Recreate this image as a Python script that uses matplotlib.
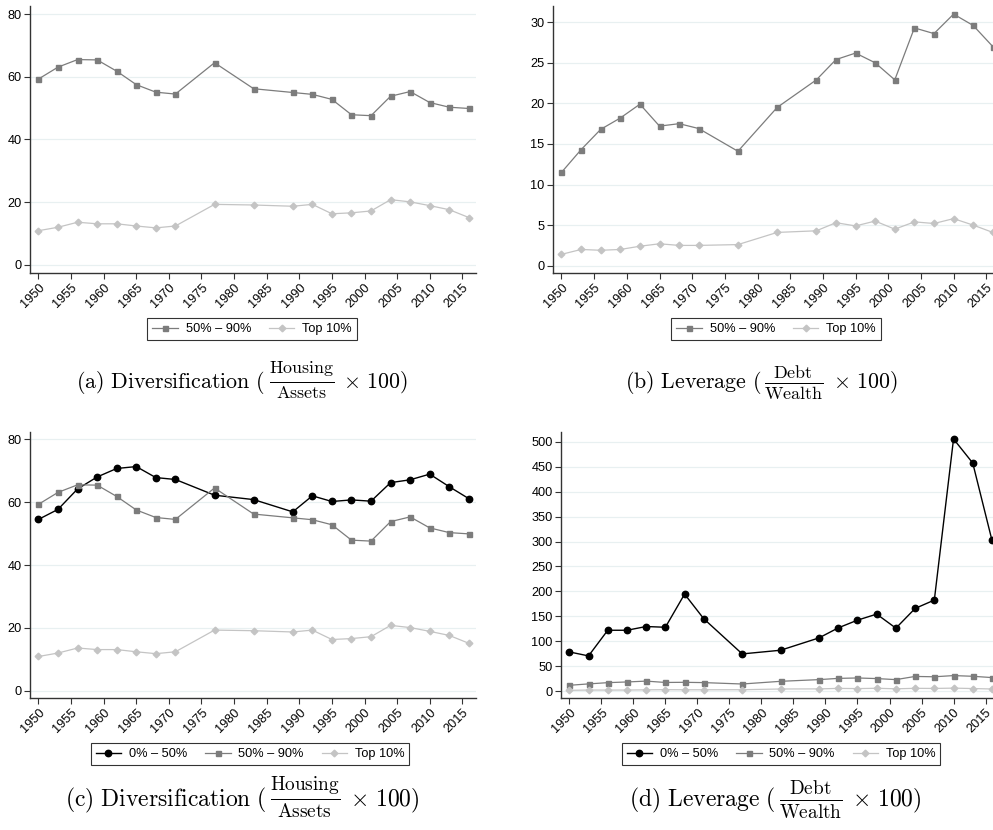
import matplotlib
matplotlib.use("Agg")
import matplotlib.pyplot as plt
from matplotlib.lines import Line2D

plt.rcParams['font.family'] = ['Liberation Sans', 'DejaVu Sans']
plt.rcParams['mathtext.fontset'] = 'cm'

# Survey years
years = [1950, 1953, 1956, 1959, 1962, 1965, 1968, 1971, 1977, 1983,
         1989, 1992, 1995, 1998, 2001, 2004, 2007, 2010, 2013, 2016]

# Diversification (Housing / Assets x 100)
div_bottom50 = [54.5, 57.7, 64.2, 68.0, 70.7, 71.3, 67.8, 67.2, 62.2, 60.8,
                56.9, 62.0, 60.2, 60.7, 60.3, 66.2, 67.1, 68.9, 64.9, 61.1]
div_mid40 = [59.3, 63.1, 65.5, 65.4, 61.8, 57.5, 55.1, 54.5, 64.5, 56.2,
             55.0, 54.4, 52.8, 47.9, 47.6, 53.8, 55.3, 51.8, 50.3, 49.9]
div_top10 = [10.9, 12.0, 13.6, 13.1, 13.1, 12.4, 11.8, 12.4, 19.3, 19.1,
             18.7, 19.3, 16.3, 16.6, 17.2, 20.8, 20.1, 18.9, 17.6, 15.1]

# Leverage (Debt / Wealth x 100)
lev_bottom50 = [78.5, 70.5, 122.0, 122.0, 129.5, 128.0, 194.6, 145.0, 74.5, 81.9,
                106.7, 126.8, 142.3, 154.4, 126.2, 165.8, 182.6, 506.0, 457.7, 302.7]
lev_mid40 = [11.5, 14.3, 16.8, 18.2, 19.9, 17.2, 17.5, 16.9, 14.1, 19.5,
             22.9, 25.4, 26.2, 25.0, 22.9, 29.3, 28.6, 31.0, 29.6, 27.0]
lev_top10 = [1.4, 2.0, 1.9, 2.0, 2.4, 2.7, 2.5, 2.5, 2.6, 4.1,
             4.3, 5.3, 4.9, 5.5, 4.5, 5.4, 5.2, 5.8, 5.0, 4.1]

labels = ['0% – 50%', '50% – 90%', 'Top 10%']
xticks = list(range(1950, 2016, 5))

styles = {
    '0% – 50%': dict(color='black', marker='o', markersize=4.6, linewidth=1.0),
    '50% – 90%': dict(color='#7c7c7c', marker='s', markersize=3.6, linewidth=0.9),
    'Top 10%': dict(color='#c4c4c4', marker='D', markersize=3.4, linewidth=0.9),
}

W, H = 993, 830
fig = plt.figure(figsize=(W / 100, H / 100), dpi=100)


def px_axes(left, top, width, height):
    return fig.add_axes([left / W, 1 - (top + height) / H, width / W, height / H])


def style_axes(ax, ylim, yticks):
    ax.set_xlim(1948.7, 2017.1)
    ax.set_ylim(*ylim)
    ax.set_yticks(yticks)
    ax.set_xticks(xticks)
    ax.set_xticklabels([str(t) for t in xticks], rotation=45, ha='right',
                       rotation_mode='anchor', fontsize=9.2)
    ax.tick_params(axis='y', labelsize=9.2, length=4, width=0.8, color='#333333', pad=2)
    ax.tick_params(axis='x', length=4, width=0.8, color='#333333', pad=2)
    for s in ['top', 'right']:
        ax.spines[s].set_visible(False)
    for s in ['left', 'bottom']:
        ax.spines[s].set_color('#333333')
        ax.spines[s].set_linewidth(1.0)
    ax.grid(axis='y', color='#e8f0f1', linewidth=0.9)
    ax.set_axisbelow(True)


def draw(ax, series):
    handles = []
    for name, vals in series:
        st = styles[name]
        ax.plot(years, vals, color=st['color'], marker=st['marker'],
                markersize=st['markersize'], linewidth=st['linewidth'], clip_on=False)
        handles.append(Line2D([], [], color=st['color'], marker=st['marker'],
                              markersize=st['markersize'], linewidth=st['linewidth']))
    return handles


def legend(handles, names, cx, cy):
    leg = fig.legend(handles, names, loc='center', bbox_to_anchor=(cx / W, 1 - cy / H),
                     ncol=len(names), fontsize=9.2, frameon=True, fancybox=False,
                     numpoints=1, handlelength=2.0, columnspacing=1.4,
                     handletextpad=0.6, borderpad=0.4, borderaxespad=0)
    leg.get_frame().set_edgecolor('black')
    leg.get_frame().set_linewidth(0.8)


renderer = fig.canvas.get_renderer()


def caption(letter, word, num, den, cx, baseline, size):
    # LaTeX-like caption: text, a fraction a bit smaller than the text, then "x 100)"
    parts = [
        (r'$\mathrm{(%s)\ %s\ (}$' % (letter, word), size),
        (r'$\frac{\mathrm{%s}}{\mathrm{%s}}$' % (num, den), size * 1.17),
        (r'$\times\ 100\mathrm{)}$', size),
    ]
    texts = [fig.text(0, 1 - baseline / H, s, fontsize=fs, va='baseline', ha='left')
             for s, fs in parts]
    widths = [t.get_window_extent(renderer).width for t in texts]
    em = size * 100 / 72
    gaps = [0.15 * em, 0.4 * em, 0]
    x = cx - (sum(widths) + sum(gaps)) / 2
    for t, w, g in zip(texts, widths, gaps):
        t.set_x(x / W)
        x += w + g


# (a)
ax_a = px_axes(30, 6, 446, 267)
style_axes(ax_a, (-2.6, 82.6), [0, 20, 40, 60, 80])
h = draw(ax_a, [(labels[1], div_mid40), (labels[2], div_top10)])
legend(h, labels[1:], 252, 329)

# (b)
ax_b = px_axes(553, 6, 447, 267)
style_axes(ax_b, (-0.9, 32.0), [0, 5, 10, 15, 20, 25, 30])
h = draw(ax_b, [(labels[1], lev_mid40), (labels[2], lev_top10)])
legend(h, labels[1:], 776, 329)

# (c)
ax_c = px_axes(30, 432, 446, 266)
style_axes(ax_c, (-2.3, 82.3), [0, 20, 40, 60, 80])
h = draw(ax_c, [(labels[0], div_bottom50), (labels[1], div_mid40), (labels[2], div_top10)])
legend(h, labels, 250, 754)

# (d)
ax_d = px_axes(561, 432, 438, 266)
style_axes(ax_d, (-14, 520), list(range(0, 501, 50)))
h = draw(ax_d, [(labels[0], lev_bottom50), (labels[1], lev_mid40), (labels[2], lev_top10)])
legend(h, labels, 781, 754)

caption('a', 'Diversification', 'Housing', 'Assets', 242, 388, 15.8)
caption('b', 'Leverage', 'Debt', 'Wealth', 761, 388, 15.8)
caption('c', 'Diversification', 'Housing', 'Assets', 242, 806, 17.0)
caption('d', 'Leverage', 'Debt', 'Wealth', 775, 806, 17.0)

fig.savefig('out.png', dpi=100)
